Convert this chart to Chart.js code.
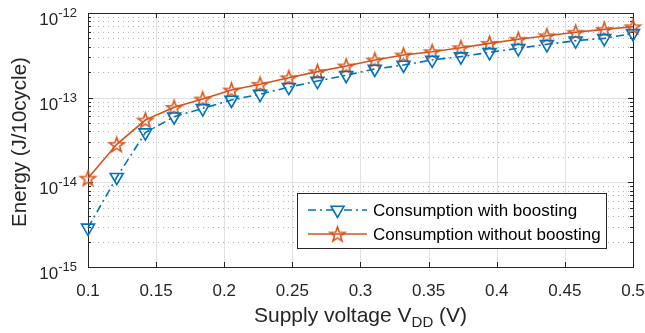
<!DOCTYPE html>
<html><head><meta charset="utf-8">
<script src="https://cdn.jsdelivr.net/npm/chart.js@4/dist/chart.umd.min.js"></script>
<style>html,body{margin:0;padding:0;background:#fff;}#wrap{width:645px;height:333px;}</style>
</head><body><div id="wrap"><canvas id="c" width="645" height="333"></canvas></div>
<script>
// ---- data ----
const vdd = [0.1000,0.1211,0.1421,0.1632,0.1842,0.2053,0.2263,0.2474,0.2684,0.2895,0.3105,0.3316,0.3526,0.3737,0.3947,0.4158,0.4368,0.4579,0.4789,0.5000];
const withBoosting = [2.9e-15,1.15e-14,3.86e-14,5.96e-14,7.48e-14,9.38e-14,1.10e-13,1.33e-13,1.57e-13,1.84e-13,2.18e-13,2.43e-13,2.79e-13,3.05e-13,3.43e-13,3.83e-13,4.27e-13,4.71e-13,5.02e-13,5.75e-13];
const withoutBoosting = [1.12e-14,2.81e-14,5.44e-14,7.69e-14,9.64e-14,1.23e-13,1.44e-13,1.72e-13,2.03e-13,2.37e-13,2.79e-13,3.19e-13,3.49e-13,3.89e-13,4.38e-13,4.89e-13,5.39e-13,5.92e-13,6.41e-13,6.89e-13];
const xTicks = [0.1,0.15,0.2,0.25,0.3,0.35,0.4,0.45,0.5];
const xTickLabels = ['0.1','0.15','0.2','0.25','0.3','0.35','0.4','0.45','0.5'];
const yDecades = [-15,-14,-13,-12];
const yTickExponents = ['-15','-14','-13','-12'];
const seriesNames = ['Consumption with boosting','Consumption without boosting'];
const yTitle = 'Energy (J/10cycle)';
const xTitleMain = 'Supply voltage V';
const xTitleSub = 'DD';
const xTitleEnd = ' (V)';

const BLUE = '#0072BD', ORANGE = '#D95319', AX = '#262626';
const FONT = '"Liberation Sans", Arial, Helvetica, sans-serif';

function makeStar(color, R, lw) {
  const s = Math.ceil(2*R + 2*lw + 2);
  const c = document.createElement('canvas'); c.width = s; c.height = s;
  const g = c.getContext('2d');
  g.translate(s/2, s/2 + 0.8);
  g.beginPath();
  const r = R*0.40;
  for (let i = 0; i < 10; i++) {
    const ang = -Math.PI/2 + i*Math.PI/5;
    const rr = (i % 2) ? r : R;
    g.lineTo(rr*Math.cos(ang), rr*Math.sin(ang));
  }
  g.closePath(); g.strokeStyle = color; g.lineWidth = lw; g.lineJoin = 'miter'; g.stroke();
  return c;
}
const starImg = makeStar(ORANGE, 7.8, 1.6);

function line(ctx, x1, y1, x2, y2) { ctx.beginPath(); ctx.moveTo(x1, y1); ctx.lineTo(x2, y2); ctx.stroke(); }

const decor = {
  id: 'decor',
  beforeDatasetsDraw(chart) {
    const { ctx, chartArea: a, scales: { x, y } } = chart;
    ctx.save();
    // minor y grid (dotted)
    ctx.lineWidth = 1; ctx.strokeStyle = '#b4b4b4'; ctx.setLineDash([1, 4]);
    for (let i = 0; i < yDecades.length - 1; i++) {
      for (let k = 2; k <= 9; k++) {
        const py = Math.round(y.getPixelForValue(k * Math.pow(10, yDecades[i]))) + 0.5;
        line(ctx, a.left, py, a.right, py);
      }
    }
    ctx.setLineDash([]);
    // major grid
    ctx.strokeStyle = '#e1e1e1';
    xTicks.forEach(v => { const px = Math.round(x.getPixelForValue(v)) + 0.5; line(ctx, px, a.top, px, a.bottom); });
    yDecades.forEach(d => { const py = Math.round(y.getPixelForValue(Math.pow(10, d))) + 0.5; line(ctx, a.left, py, a.right, py); });
    // box
    ctx.strokeStyle = AX; ctx.lineWidth = 1;
    ctx.strokeRect(Math.round(a.left) + 0.5, Math.round(a.top) + 0.5, Math.round(a.right - a.left), Math.round(a.bottom - a.top));
    // x ticks
    xTicks.forEach(v => {
      const px = Math.round(x.getPixelForValue(v)) + 0.5;
      line(ctx, px, a.bottom, px, a.bottom - 5);
      line(ctx, px, a.top, px, a.top + 5);
    });
    // y ticks
    for (let i = 0; i < yDecades.length; i++) {
      const py = Math.round(y.getPixelForValue(Math.pow(10, yDecades[i]))) + 0.5;
      line(ctx, a.left, py, a.left + 5, py); line(ctx, a.right, py, a.right - 5, py);
      if (i < yDecades.length - 1) {
        for (let k = 2; k <= 9; k++) {
          const q = Math.round(y.getPixelForValue(k * Math.pow(10, yDecades[i]))) + 0.5;
          line(ctx, a.left, q, a.left + 3, q); line(ctx, a.right, q, a.right - 3, q);
        }
      }
    }
    // x tick labels
    ctx.fillStyle = AX; ctx.font = '17px ' + FONT; ctx.textAlign = 'center'; ctx.textBaseline = 'alphabetic';
    xTicks.forEach((v, i) => ctx.fillText(xTickLabels[i], x.getPixelForValue(v), a.bottom + 29));
    // y tick labels 10^d
    yDecades.forEach((d, i) => {
      const py = y.getPixelForValue(Math.pow(10, d));
      ctx.font = '13px ' + FONT; ctx.textAlign = 'right';
      const ew = ctx.measureText(yTickExponents[i]).width;
      const right = a.left - 11;
      ctx.fillText(yTickExponents[i], right, py + 4);
      ctx.font = '17px ' + FONT;
      ctx.fillText('10', right - ew, py + 12);
    });
    // axis titles
    ctx.font = '21px ' + FONT; ctx.textAlign = 'left';
    const w1 = ctx.measureText(xTitleMain).width;
    ctx.font = '15px ' + FONT; const w2 = ctx.measureText(xTitleSub).width;
    ctx.font = '21px ' + FONT; const w3 = ctx.measureText(xTitleEnd).width;
    let sx = (a.left + a.right) / 2 - (w1 + w2 + w3) / 2;
    const by = 322;
    ctx.fillText(xTitleMain, sx, by);
    ctx.font = '15px ' + FONT; ctx.fillText(xTitleSub, sx + w1, by + 5);
    ctx.font = '21px ' + FONT; ctx.fillText(xTitleEnd, sx + w1 + w2, by);
    ctx.save();
    ctx.font = '20.5px ' + FONT;
    ctx.translate(20, 142);
    ctx.rotate(-Math.PI / 2);
    ctx.textAlign = 'center'; ctx.textBaseline = 'middle';
    ctx.fillText(yTitle, 0, 0);
    ctx.restore();
    ctx.restore();
  },
  afterDatasetsDraw(chart) {
    const { ctx } = chart;
    ctx.save();
    const L = 297, T = 193, R = 606, B = 248;
    ctx.fillStyle = '#fff'; ctx.fillRect(L, T, R - L, B - T);
    ctx.strokeStyle = AX; ctx.lineWidth = 1; ctx.strokeRect(L + 0.5, T + 0.5, R - L, B - T);
    const rows = [210, 234];
    // row 1: blue dash-dot + down triangle
    ctx.strokeStyle = BLUE; ctx.lineWidth = 1.6; ctx.setLineDash([8, 4, 2, 4]);
    line(ctx, 308, rows[0], 367, rows[0]);
    ctx.setLineDash([]);
    const cx = 337.5, r = 7.5, cy = rows[0];
    ctx.beginPath();
    ctx.moveTo(cx, cy + r); ctx.lineTo(cx - r * Math.sin(Math.PI / 3), cy - r / 2); ctx.lineTo(cx + r * Math.sin(Math.PI / 3), cy - r / 2); ctx.closePath();
    ctx.fillStyle = '#fff'; ctx.fill(); ctx.stroke();
    // row 2: orange solid + star
    ctx.strokeStyle = ORANGE; ctx.lineWidth = 1.6;
    line(ctx, 308, rows[1], 367, rows[1]);
    ctx.drawImage(starImg, 337.5 - starImg.width / 2, rows[1] - starImg.height / 2);
    ctx.fillStyle = '#000'; ctx.font = '17px ' + FONT; ctx.textAlign = 'left'; ctx.textBaseline = 'middle';
    ctx.fillText(seriesNames[0], 373, rows[0] + 1);
    ctx.fillText(seriesNames[1], 373, rows[1] + 1);
    ctx.restore();
  }
};

new Chart(document.getElementById('c'), {
  type: 'line',
  data: {
    datasets: [
      {
        label: seriesNames[0],
        data: vdd.map((v, i) => ({ x: v, y: withBoosting[i] })),
        borderColor: BLUE, borderWidth: 1.6, borderDash: [8, 4, 2, 4],
        pointStyle: 'triangle', pointRotation: 180, pointRadius: 7.5, pointBorderWidth: 1.6,
        pointBorderColor: BLUE, pointBackgroundColor: 'rgba(0,0,0,0)', fill: false, tension: 0, clip: false
      },
      {
        label: seriesNames[1],
        data: vdd.map((v, i) => ({ x: v, y: withoutBoosting[i] })),
        borderColor: ORANGE, borderWidth: 1.6,
        pointStyle: starImg, pointRadius: 8, fill: false, tension: 0, clip: false
      }
    ]
  },
  options: {
    responsive: false, animation: false, events: [],
    layout: { padding: { left: 88, right: 12, top: 13, bottom: 66 } },
    plugins: { legend: { display: false }, tooltip: { enabled: false } },
    scales: {
      x: { type: 'linear', min: 0.1, max: 0.5, display: false },
      y: { type: 'logarithmic', min: 1e-15, max: 1e-12, display: false }
    }
  },
  plugins: [decor]
});
</script>
</body></html>
